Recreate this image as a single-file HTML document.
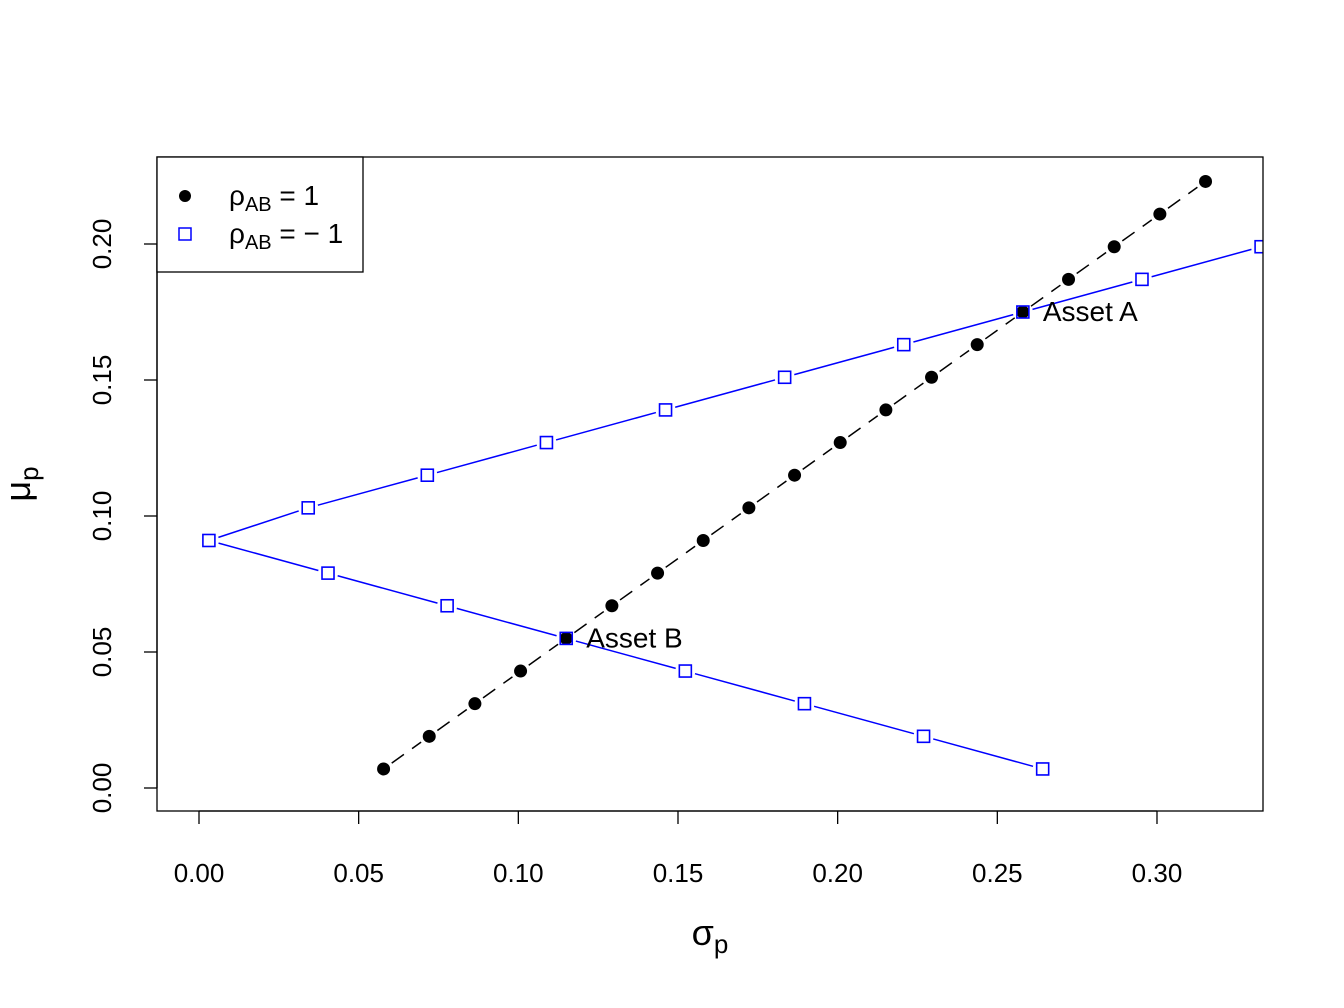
<!DOCTYPE html>
<html><head><meta charset="utf-8"><style>
body{margin:0;background:#fff}
svg{display:block;font-family:"Liberation Sans",Arial,sans-serif}
</style></head><body>
<svg id="chart" width="1344" height="1008" viewBox="0 0 1344 1008" xmlns="http://www.w3.org/2000/svg">
<defs><clipPath id="plotclip"><rect x="157" y="157" width="1106" height="654"/></clipPath></defs>
<g id="marks" clip-path="url(#plotclip)"></g>
<rect x="157" y="157" width="1106" height="654" fill="none" stroke="#000" stroke-width="1.3"/>
<g id="axes"></g>
<text x="710" y="945" font-size="36" text-anchor="middle">σ<tspan font-size="26" dy="8">p</tspan></text>
<text transform="translate(30,484) rotate(-90)" font-size="36" text-anchor="middle">μ<tspan font-size="26" dy="8">p</tspan></text>
<g>
<rect x="157" y="157" width="206" height="115" fill="#fff" stroke="#000" stroke-width="1.3"/>
<circle cx="185" cy="196" r="6" fill="#000"/>
<text x="229" y="205" font-size="28">ρ<tspan font-size="20" dy="6">AB</tspan><tspan dy="-6"> = 1</tspan></text>
<rect x="179" y="228" width="12" height="12" fill="none" stroke="#00f" stroke-width="1.5"/>
<text x="229" y="243" font-size="28">ρ<tspan font-size="20" dy="6">AB</tspan><tspan dy="-6"> = − 1</tspan></text>
</g>
</svg>
<script>
const xTicks=[0,0.05,0.10,0.15,0.20,0.25,0.30];
const xTickLabels=["0.00","0.05","0.10","0.15","0.20","0.25","0.30"];
const yTicks=[0,0.05,0.10,0.15,0.20];
const yTickLabels=["0.00","0.05","0.10","0.15","0.20"];
const mu=[0.007,0.019,0.031,0.043,0.055,0.067,0.079,0.091,0.103,0.115,0.127,0.139,0.151,0.163,0.175,0.187,0.199,0.211,0.223];
const sdPos=[0.0578,0.0721,0.0864,0.1007,0.115,0.1293,0.1436,0.1579,0.1722,0.1865,0.2008,0.2151,0.2294,0.2437,0.258,0.2723,0.2866,0.3009,0.3152];
const sdNeg=[0.2642,0.2269,0.1896,0.1523,0.115,0.0777,0.0404,0.0031,0.0342,0.0715,0.1088,0.1461,0.1834,0.2207,0.258,0.2953,0.3326,0.3699,0.4072];
const assetNames=["Asset A","Asset B"];
const assetSd=[0.258,0.115];
const assetMu=[0.175,0.055];
const NS="http://www.w3.org/2000/svg";
const X=v=>199+v*3193.3, Y=v=>788-v*2720;
function mk(t,a,p){const e=document.createElementNS(NS,t);for(const k in a)e.setAttribute(k,a[k]);p.appendChild(e);return e;}
const axes=document.getElementById('axes'), marks=document.getElementById('marks'), svg=document.getElementById('chart');
mk('line',{x1:X(0),x2:X(0.3),y1:811,y2:811,stroke:'#000','stroke-width':1.3},axes);
xTicks.forEach((t,i)=>{mk('line',{x1:X(t),x2:X(t),y1:811,y2:824,stroke:'#000','stroke-width':1.3},axes);
const tx=mk('text',{x:X(t),y:882,'font-size':26,'text-anchor':'middle'},axes);tx.textContent=xTickLabels[i];

});
mk('line',{x1:157,x2:157,y1:Y(0),y2:Y(0.2),stroke:'#000','stroke-width':1.3},axes);
yTicks.forEach((t,i)=>{mk('line',{x1:144,x2:157,y1:Y(t),y2:Y(t),stroke:'#000','stroke-width':1.3},axes);
const tx=mk('text',{transform:'translate(111,'+Y(t)+') rotate(-90)','font-size':26,'text-anchor':'middle'},axes);tx.textContent=yTickLabels[i];

});
function lines(sd,col,dash,gap){for(let i=0;i<sd.length-1;i++){const x1=X(sd[i]),y1=Y(mu[i]),x2=X(sd[i+1]),y2=Y(mu[i+1]);
const dx=x2-x1,dy=y2-y1,L=Math.hypot(dx,dy);if(L<2*gap)continue;const ux=dx/L,uy=dy/L;
const l=mk('line',{x1:x1+ux*gap,y1:y1+uy*gap,x2:x2-ux*gap,y2:y2-uy*gap,stroke:col,'stroke-width':1.5},marks);
if(dash)l.setAttribute('stroke-dasharray',dash);

}}
lines(sdPos,'#000','15 10',10);
lines(sdNeg,'#00f',null,10);
sdPos.forEach((s,i)=>{const c=mk('circle',{cx:X(s),cy:Y(mu[i]),r:6.5,fill:'#000'},marks);

});
sdNeg.forEach((s,i)=>{const r=mk('rect',{x:X(s)-6,y:Y(mu[i])-6,width:12,height:12,fill:'none',stroke:'#00f','stroke-width':1.6},marks);

});
assetNames.forEach((n,i)=>{const t=mk('text',{x:X(assetSd[i])+20,y:Y(assetMu[i])+9,'font-size':28},svg);t.textContent=n;

});
</script>
</body></html>
